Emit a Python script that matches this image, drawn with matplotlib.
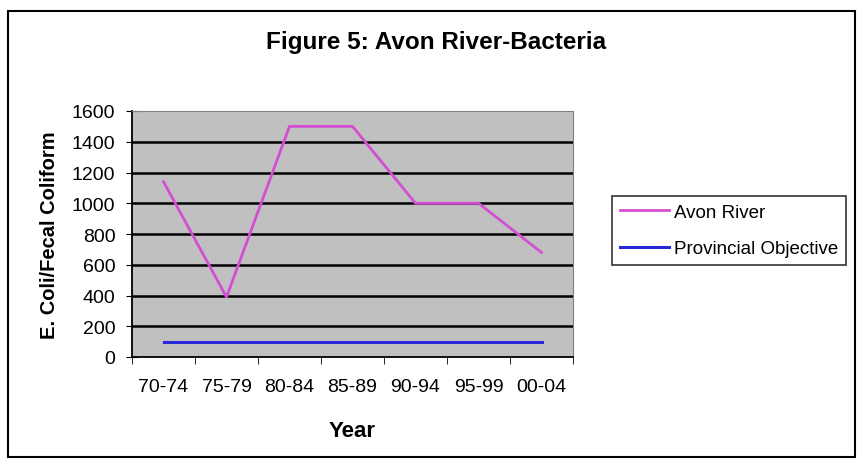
import numpy as np
import matplotlib
matplotlib.use('Agg')
import matplotlib.pyplot as plt
from matplotlib.patches import Rectangle

# datos
years = ['70-74', '75-79', '80-84', '85-89', '90-94', '95-99', '00-04']
avon = [1140, 390, 1500, 1500, 1000, 1000, 680]
objetivo = [100, 100, 100, 100, 100, 100, 100]
yticks = [0, 200, 400, 600, 800, 1000, 1200, 1400, 1600]

plt.rcParams['font.family'] = ['Liberation Sans', 'DejaVu Sans']

fig = plt.figure(figsize=(8.59, 4.64), dpi=100)
W, H = 859, 464

# marco exterior del grafico
fig.patches.append(Rectangle((8 / W, 1 - 458 / H), 847 / W, 446 / H,
                             transform=fig.transFigure, fill=False,
                             edgecolor='black', linewidth=1.5))

ax = fig.add_axes([132 / W, 1 - 358 / H, 441 / W, 246 / H])
ax.set_facecolor('#C0C0C0')

x = np.arange(len(years))
ax.plot(x, avon, color='#D24FD2', linewidth=2, label='Avon River', zorder=3)
ax.plot(x, objetivo, color='#2828D8', linewidth=2.2, label='Provincial Objective', zorder=3)

ax.set_xlim(-0.5, len(years) - 0.5)
ax.set_ylim(0, 1600)
ax.set_yticks(yticks)
ax.set_yticklabels([str(v) for v in yticks], fontsize=14)
ax.set_xticks(x)
ax.set_xticklabels(years, fontsize=14)
ax.tick_params(axis='x', length=0, pad=15)
ax.set_xticks(np.arange(-0.5, len(years)), minor=True)
ax.tick_params(axis='x', which='minor', length=5, color='black')
ax.tick_params(axis='y', length=8, direction='inout', color='black', pad=8)

for v in yticks[1:-1]:
    ax.axhline(v, color='black', linewidth=1.8, zorder=1)

for s in ['top', 'right']:
    ax.spines[s].set_color('#808080')
ax.spines['left'].set_color('black')
ax.spines['bottom'].set_color('black')
ax.spines['left'].set_linewidth(1.3)
ax.spines['bottom'].set_linewidth(1.3)

ax.set_xlabel('Year', fontsize=16, fontweight='bold', labelpad=18)
ax.set_ylabel('E. Coli/Fecal Coliform', fontsize=14.5, fontweight='bold', labelpad=9)

fig.text(436 / W, 1 - 43 / H, 'Figure 5: Avon River-Bacteria', ha='center',
         va='center', fontsize=17.5, fontweight='bold')

leg = ax.legend(loc='center left', bbox_to_anchor=(612 / W, 1 - 231.5 / H),
                bbox_transform=fig.transFigure, frameon=True, borderaxespad=0,
                fancybox=False, edgecolor='black', handlelength=2.65,
                borderpad=0.4, labelspacing=1.05, handletextpad=0.25,
                prop={'size': 13.5})
leg.get_frame().set_linewidth(1.2)

plt.savefig('out.png', dpi=100)
